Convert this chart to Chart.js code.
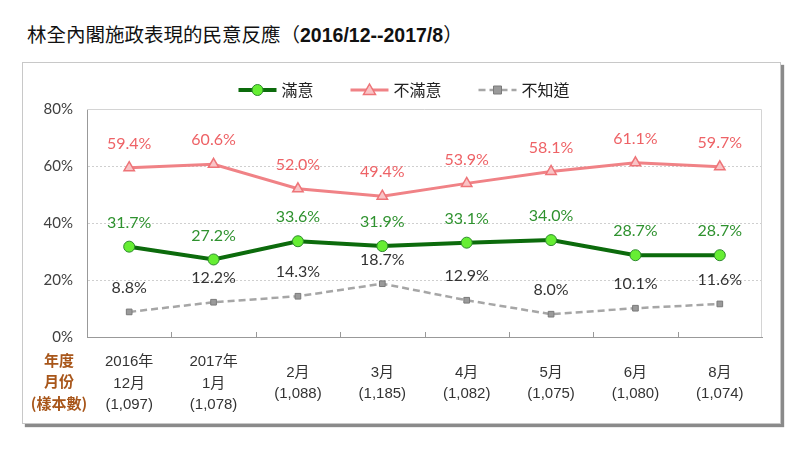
<!DOCTYPE html>
<html>
<head>
<meta charset="utf-8">
<script src="https://cdn.jsdelivr.net/npm/chart.js@4.4.1/dist/chart.umd.min.js"></script>
<style>
  body { margin: 0; background: #fff; width: 800px; height: 449px; overflow: hidden; position: relative; font-family: "Noto Sans CJK TC", sans-serif; }
  #title { position: absolute; left: 27px; top: 19px; font-size: 19.5px; color: #111; white-space: nowrap; }
  #title b { font-family: "Liberation Sans", Arial, sans-serif; font-weight: bold; }
  #box { position: absolute; left: 22px; top: 62px; width: 757px; height: 360px; border: 1px solid #c8c8c8; box-shadow: 3px 3px 1px #8a8a8a; }
  #chart { position: absolute; left: 0; top: 0; }
</style>
</head>
<body>
<div id="title">林全內閣施政表現的民意反應（<b>2016/12--2017/8</b>）</div>
<div id="box"></div>
<canvas id="chart" width="800" height="449"></canvas>
<script>
const months = [
  ["2016年", "12月", "(1,097)"],
  ["2017年", "1月", "(1,078)"],
  ["2月", "(1,088)"],
  ["3月", "(1,185)"],
  ["4月", "(1,082)"],
  ["5月", "(1,075)"],
  ["6月", "(1,080)"],
  ["8月", "(1,074)"],
];
const satisfied = [31.7, 27.2, 33.6, 31.9, 33.1, 34.0, 28.7, 28.7];
const dissatisfied = [59.4, 60.6, 52.0, 49.4, 53.9, 58.1, 61.1, 59.7];
const unknown = [8.8, 12.2, 14.3, 18.7, 12.9, 8.0, 10.1, 11.6];
const rowHeads = ["年度", "月份", "(樣本數)"];

const labelColors = ["#2f922f", "#ee6266", "#333333"];
const cjk = '"Noto Sans CJK TC", sans-serif';

// draws one marker like the dataset's points
function drawMarker(ctx, ds, x, y) {
  const r = ds.pointRadius;
  ctx.save();
  ctx.fillStyle = ds.pointBackgroundColor;
  ctx.strokeStyle = ds.pointBorderColor;
  ctx.lineWidth = ds.pointBorderWidth;
  ctx.setLineDash([]);
  ctx.beginPath();
  if (ds.pointStyle === "circle") {
    ctx.arc(x, y, r, 0, Math.PI * 2);
  } else if (ds.pointStyle === "triangle") {
    ctx.moveTo(x, y - r);
    ctx.lineTo(x + r, y + r * 0.75);
    ctx.lineTo(x - r, y + r * 0.75);
    ctx.closePath();
  } else {
    ctx.rect(x - r, y - r, r * 2, r * 2);
  }
  ctx.fill();
  ctx.stroke();
  ctx.restore();
}

const framePlugin = {
  id: "frame",
  beforeDatasetsDraw(chart) {
    const { ctx, chartArea: a, scales } = chart;
    ctx.save();
    ctx.strokeStyle = "#d4d4d4";
    ctx.lineWidth = 1;
    ctx.beginPath();
    ctx.moveTo(a.left, a.top + 0.5);
    ctx.lineTo(a.right - 0.5, a.top + 0.5);
    ctx.lineTo(a.right - 0.5, a.bottom);
    ctx.stroke();
    // small inward ticks between categories
    ctx.strokeStyle = "#999";
    ctx.beginPath();
    for (let i = 1; i < months.length; i++) {
      const x = Math.round((scales.x.getPixelForValue(i - 1) + scales.x.getPixelForValue(i)) / 2) + 0.5;
      ctx.moveTo(x, a.bottom);
      ctx.lineTo(x, a.bottom - 5);
    }
    ctx.stroke();
    ctx.restore();
  },
  afterDatasetsDraw(chart) {
    const { ctx } = chart;
    ctx.save();
    ctx.font = '16px "Lato", sans-serif';
    ctx.textAlign = "center";
    ctx.textBaseline = "middle";
    chart.data.datasets.forEach((ds, i) => {
      ctx.fillStyle = labelColors[i];
      chart.getDatasetMeta(i).data.forEach((pt, j) => {
        ctx.fillText(ds.data[j].toFixed(1) + "%", pt.x, pt.y - 24);
      });
    });
    ctx.restore();
  },
  afterDraw(chart) {
    const { ctx, chartArea: a } = chart;
    ctx.save();
    // row headers under the axis
    ctx.fillStyle = "#a8561a";
    ctx.font = "bold 15px " + cjk;
    ctx.textAlign = "center";
    ctx.textBaseline = "middle";
    rowHeads.forEach((t, i) => ctx.fillText(t, 59, a.bottom + 23 + i * 21.5));

    // legend
    ctx.font = "16px " + cjk;
    const dsets = chart.data.datasets;
    const widths = dsets.map((ds) => ctx.measureText(ds.label).width);
    const lineLen = 38, gap = 5, spacing = 37;
    let total = widths.reduce((s, w) => s + lineLen + gap + w, 0) + spacing * (dsets.length - 1);
    let x = 404 - total / 2;
    const y = 90;
    dsets.forEach((ds, i) => {
      ctx.strokeStyle = ds.borderColor;
      ctx.lineWidth = ds.borderWidth;
      ctx.setLineDash(ds.borderDash || []);
      ctx.beginPath();
      ctx.moveTo(x, y);
      ctx.lineTo(x + lineLen, y);
      ctx.stroke();
      drawMarker(ctx, ds, x + lineLen / 2, y);
      ctx.fillStyle = "#222";
      ctx.textAlign = "left";
      ctx.fillText(ds.label, x + lineLen + gap, y);
      x += lineLen + gap + widths[i] + spacing;
    });
    ctx.restore();
  },
};

new Chart(document.getElementById("chart"), {
  type: "line",
  data: {
    labels: months,
    datasets: [
      {
        label: "滿意",
        data: satisfied,
        borderColor: "#0c6b0c",
        borderWidth: 4,
        pointStyle: "circle",
        pointRadius: 5.5,
        pointBackgroundColor: "#66ee33",
        pointBorderColor: "#2c8a2c",
        pointBorderWidth: 1,
      },
      {
        label: "不滿意",
        data: dissatisfied,
        borderColor: "#f08286",
        borderWidth: 3,
        pointStyle: "triangle",
        pointRadius: 6,
        pointBackgroundColor: "#f9c4c6",
        pointBorderColor: "#ee7478",
        pointBorderWidth: 1.5,
      },
      {
        label: "不知道",
        data: unknown,
        borderColor: "#a6a6a6",
        borderWidth: 2.5,
        borderDash: [7, 4],
        pointStyle: "rect",
        pointRadius: 4,
        pointBackgroundColor: "#9a9a9a",
        pointBorderColor: "#7a7a7a",
        pointBorderWidth: 1,
      },
    ],
  },
  options: {
    responsive: false,
    animation: false,
    events: [],
    layout: { padding: { top: 109, right: 38, left: 0, bottom: 0 } },
    plugins: {
      legend: { display: false },
      title: { display: false },
      tooltip: { enabled: false },
    },
    elements: { line: { tension: 0 } },
    scales: {
      x: {
        offset: true,
        grid: { display: false, drawTicks: false },
        border: { color: "#999", width: 1 },
        ticks: {
          color: "#333",
          padding: 25,
          crossAlign: "center",
          maxRotation: 0,
          autoSkip: false,
          font: { family: '"Liberation Sans", "Noto Sans CJK TC", sans-serif', size: 15, lineHeight: 1.43 },
        },
        afterFit(scale) { scale.height = 112; },
      },
      y: {
        min: 0,
        max: 80,
        grid: {
          drawTicks: false,
          color: (c) => (c.tick.value === 0 || c.tick.value === 80 ? "rgba(0,0,0,0)" : "#cfcfcf"),
        },
        border: { color: "#999", width: 1, dash: [2, 2] },
        ticks: {
          stepSize: 20,
          padding: 14,
          color: "#404040",
          font: { family: '"Lato", sans-serif', size: 15 },
          callback: (v) => v + "%",
        },
        afterFit(scale) { scale.width = 87; },
      },
    },
  },
  plugins: [framePlugin],
});
</script>
</body>
</html>
